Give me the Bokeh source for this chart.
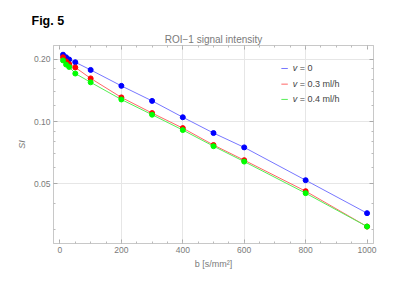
from bokeh.plotting import figure
from bokeh.models import (FixedTicker, NumeralTickFormatter, Title, Label, Arrow,
                          LinearAxis, LogAxis, CustomJSTickFormatter, Range1d)
from bokeh.embed import file_html
from bokeh.resources import INLINE

# ---- data ----
b_values = [10, 20, 30, 50, 100, 200, 300, 400, 500, 600, 800, 1000]
si_v0 = [0.211, 0.205, 0.200, 0.194, 0.178, 0.149, 0.126, 0.105, 0.088, 0.075, 0.052, 0.036]
si_v03 = [0.205, 0.196, 0.190, 0.183, 0.162, 0.131, 0.110, 0.093, 0.077, 0.065, 0.046, 0.031]
si_v04 = [0.198, 0.189, 0.184, 0.171, 0.155, 0.128, 0.108, 0.091, 0.076, 0.064, 0.045, 0.031]

series_names = ["0", "0.3 ml/h", "0.4 ml/h"]
series_colors = ["#0000ff", "#ff0000", "#00ff00"]
line_colors = ["#7777ff", "#ff6666", "#55ee55"]

x_ticks = [0, 200, 400, 600, 800, 1000]
x_minor = [v for v in range(0, 1001, 50)]
y_ticks = [0.05, 0.10, 0.20]
y_minor = [0.03, 0.04, 0.06, 0.07, 0.08, 0.09, 0.12, 0.14, 0.16, 0.18]

FONT = "Liberation Sans"
GRAY = "#7a7a7a"

p = figure(width=400, height=300, output_backend="svg", toolbar_location=None,
           title=None, y_axis_type="log",
           x_range=Range1d(-21, 1021), y_range=Range1d(0.02566, 0.2338),
           min_border_left=53, min_border_right=27, min_border_top=45,
           min_border_bottom=57, background_fill_color="white",
           border_fill_color="white")
p.outline_line_color = "#c8c8c8"

# axes
for ax in (p.xaxis[0], p.yaxis[0]):
    ax.major_tick_in = 4
    ax.major_tick_out = 0
    ax.minor_tick_in = 2
    ax.minor_tick_out = 0
    ax.axis_line_color = "#c8c8c8"
    ax.major_tick_line_color = "#aaaaaa"
    ax.minor_tick_line_color = "#bbbbbb"
    ax.major_label_text_color = GRAY
    ax.major_label_text_font = FONT
    ax.major_label_text_font_size = "8.5px"
    ax.axis_label_text_color = GRAY
    ax.axis_label_text_font = FONT
    ax.axis_label_text_font_size = "9px"
    ax.major_label_standoff = 3

p.xaxis.ticker = FixedTicker(ticks=x_ticks, minor_ticks=x_minor)
p.yaxis.ticker = FixedTicker(ticks=y_ticks, minor_ticks=y_minor)
p.yaxis.formatter = NumeralTickFormatter(format="0.00")
p.xaxis.axis_label = "b [s/mm²]"
p.xaxis.axis_label_text_font_style = "normal"
p.xaxis.axis_label_standoff = 3
p.yaxis.axis_label = "SI"
p.yaxis.axis_label_text_font_style = "italic"
p.yaxis.axis_label_standoff = 4

# frame ticks on top and right
empty_fmt = CustomJSTickFormatter(code="return '';")
top_ax = LinearAxis(ticker=FixedTicker(ticks=x_ticks, minor_ticks=x_minor), formatter=empty_fmt,
                    major_tick_in=4, major_tick_out=0, minor_tick_in=2, minor_tick_out=0,
                    axis_line_color="#c8c8c8", major_tick_line_color="#aaaaaa",
                    minor_tick_line_color="#bbbbbb", major_label_standoff=0,
                    major_label_text_font_size="1px")
right_ax = LogAxis(ticker=FixedTicker(ticks=y_ticks, minor_ticks=y_minor), formatter=empty_fmt,
                   major_tick_in=4, major_tick_out=0, minor_tick_in=2, minor_tick_out=0,
                   axis_line_color="#c8c8c8", major_tick_line_color="#aaaaaa",
                   minor_tick_line_color="#bbbbbb", major_label_standoff=0,
                   major_label_text_font_size="1px")
p.add_layout(top_ax, "above")
p.add_layout(right_ax, "right")

# grid
p.xgrid.ticker = FixedTicker(ticks=[200, 400, 600, 800])
p.ygrid.ticker = FixedTicker(ticks=y_ticks)
p.xgrid.grid_line_color = "#e6e6e6"
p.ygrid.grid_line_color = "#e6e6e6"

# titles
t1 = Title(text="ROI\u22121 signal intensity", align="center", text_font=FONT,
           text_font_size="10px", text_font_style="normal", text_color=GRAY,
           standoff=2)
p.add_layout(t1, "above")
t2 = Title(text="Fig. 5", align="left", offset=-22, text_font=FONT,
           text_font_size="12.5px", text_font_style="bold", text_color="black",
           standoff=6)
p.add_layout(t2, "above")

# data
for ys, lc, mc in zip([si_v0, si_v03, si_v04], line_colors, series_colors):
    p.line(b_values, ys, line_color=lc, line_width=1)
    p.scatter(b_values, ys, size=5, fill_color=mc, line_color=mc)

# legend (manual, for the italic v)
leg_y = [0.1809, 0.1519, 0.1281]
for name, lc, yy in zip(series_names, line_colors, leg_y):
    p.add_layout(Arrow(end=None, x_start=721, x_end=742, y_start=yy, y_end=yy,
                       line_color=lc, line_width=1))
    p.add_layout(Label(x=758, y=yy, text="v", text_font=FONT, text_font_size="9px",
                       text_font_style="italic", text_color="#444444",
                       text_baseline="middle"))
    p.add_layout(Label(x=781, y=yy, text="= " + name, text_font=FONT,
                       text_font_size="9px", text_color="#444444",
                       text_baseline="middle"))

open("out.html", "w").write(file_html(p, INLINE))
